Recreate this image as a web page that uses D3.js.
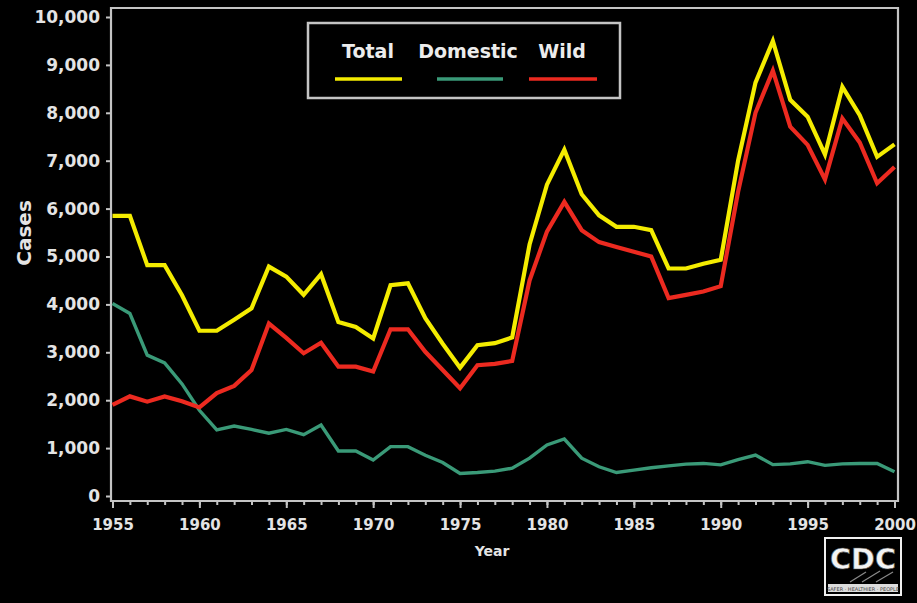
<!DOCTYPE html>
<html>
<head>
<meta charset="utf-8">
<script src="https://cdn.jsdelivr.net/npm/d3@7/dist/d3.min.js"></script>
<style>
  html, body { margin: 0; padding: 0; background: #000; }
  svg { display: block; }
</style>
</head>
<body>
<svg id="chart" width="917" height="603"></svg>
<script>
// Reported animal rabies cases, United States, 1955-2000
const years = d3.range(1955, 2001);

const totalCases = [
  5850, 5850, 4820, 4820, 4190, 3450, 3450, 3680, 3920, 4790,
  4580, 4200, 4630, 3630, 3530, 3290, 4400, 4440, 3710, 3180,
  2680, 3150, 3190, 3310, 5250, 6500, 7230, 6300, 5860, 5620,
  5620, 5550, 4750, 4750, 4850, 4930, 7000, 8630, 9500, 8270,
  7920, 7130, 8540, 7950, 7080, 7340
];

const domesticCases = [
  4020, 3810, 2940, 2780, 2340, 1790, 1380, 1460, 1390, 1310,
  1390, 1280, 1480, 940, 940, 750, 1030, 1030, 850, 700,
  470, 490, 520, 580, 790, 1065, 1190, 790, 610, 490,
  540, 590, 630, 665, 680, 650, 760, 856, 655, 670,
  716, 640, 670, 680, 680, 508
];

const wildCases = [
  1900, 2080, 1970, 2080, 1980, 1850, 2150, 2300, 2630, 3600,
  3300, 2980, 3200, 2700, 2700, 2600, 3480, 3480, 3010, 2630,
  2250, 2730, 2760, 2820, 4500, 5520, 6140, 5550, 5300, 5200,
  5100, 5000, 4130, 4200, 4270, 4380, 6350, 8000, 8880, 7710,
  7330, 6610, 7880, 7380, 6530, 6870
];

const seriesNames = ["Total", "Domestic", "Wild"];
const yTickValues = d3.range(0, 10001, 1000);
const xMajorTicks = d3.range(1955, 2001, 5);

const colors = { Total: "#f4ec00", Domestic: "#3a9a78", Wild: "#ec2a20" };
const widths = { Total: 4.2, Domestic: 3.4, Wild: 4.2 };
const seriesData = { Total: totalCases, Domestic: domesticCases, Wild: wildCases };

const svg = d3.select("#chart");
svg.append("rect").attr("width", 917).attr("height", 603).attr("fill", "#000");

const frame = { left: 111, right: 898, top: 8, bottom: 501 };
const x = d3.scaleLinear().domain([1955, 2000]).range([112.5, 894.5]);
const y = d3.scaleLinear().domain([0, 10000]).range([496, 17]);

const axisColor = "#c4c4c4";
const labelColor = "#e4e4e4";
const fontFamily = "'DejaVu Sans', Verdana, sans-serif";

// Plot frame
svg.append("path")
  .attr("d", `M${frame.left},${frame.top}H${frame.right}V${frame.bottom}H${frame.left}Z`)
  .attr("fill", "none")
  .attr("stroke", axisColor)
  .attr("stroke-width", 2.2);

// Y axis
const yAxis = svg.append("g")
  .attr("transform", `translate(${frame.left},0)`)
  .call(d3.axisLeft(y).tickValues(yTickValues).tickFormat(d3.format(",")).tickSize(5).tickPadding(6));
yAxis.select(".domain").remove();
yAxis.selectAll(".tick line").attr("stroke", axisColor).attr("stroke-width", 2);
yAxis.selectAll(".tick text")
  .attr("fill", labelColor)
  .attr("font-family", fontFamily)
  .attr("font-weight", "bold")
  .attr("font-size", 17);

// X axis: yearly minor ticks, labelled ticks every five years
const xMinor = svg.append("g")
  .attr("transform", `translate(0,${frame.bottom})`)
  .call(d3.axisBottom(x).tickValues(years).tickFormat("").tickSize(4));
xMinor.select(".domain").remove();
xMinor.selectAll(".tick line").attr("stroke", axisColor).attr("stroke-width", 2);

const xMajor = svg.append("g")
  .attr("transform", `translate(0,${frame.bottom})`)
  .call(d3.axisBottom(x).tickValues(xMajorTicks).tickFormat(d3.format("d")).tickSize(7).tickPadding(11));
xMajor.select(".domain").remove();
xMajor.selectAll(".tick line").attr("stroke", axisColor).attr("stroke-width", 2);
xMajor.selectAll(".tick text")
  .attr("fill", labelColor)
  .attr("font-family", fontFamily)
  .attr("font-weight", "bold")
  .attr("font-size", 15);

// Axis titles
svg.append("text")
  .attr("x", 492).attr("y", 556)
  .attr("text-anchor", "middle")
  .attr("fill", labelColor)
  .attr("font-family", fontFamily)
  .attr("font-weight", "bold")
  .attr("font-size", 14)
  .text("Year");

svg.append("text")
  .attr("transform", "translate(31,233) rotate(-90)")
  .attr("text-anchor", "middle")
  .attr("fill", labelColor)
  .attr("font-family", fontFamily)
  .attr("font-weight", "bold")
  .attr("font-size", 20)
  .text("Cases");

// Series lines
const line = d3.line()
  .x((d, i) => x(years[i]))
  .y(d => y(d))
  .curve(d3.curveLinear);

["Domestic", "Wild", "Total"].forEach(name => {
  svg.append("path")
    .datum(seriesData[name])
    .attr("d", line)
    .attr("fill", "none")
    .attr("stroke", colors[name])
    .attr("stroke-width", widths[name])
    .attr("stroke-linejoin", "miter")
    .attr("stroke-miterlimit", 3);
});

// Legend
const legend = svg.append("g");
legend.append("rect")
  .attr("x", 308).attr("y", 23).attr("width", 312).attr("height", 75)
  .attr("fill", "#000")
  .attr("stroke", axisColor)
  .attr("stroke-width", 2.5);

const legendItems = [
  { name: "Total", cx: 368, x0: 335, x1: 402 },
  { name: "Domestic", cx: 468, x0: 437, x1: 503 },
  { name: "Wild", cx: 562, x0: 529, x1: 597 }
];
legendItems.forEach(item => {
  legend.append("text")
    .attr("x", item.cx).attr("y", 58)
    .attr("text-anchor", "middle")
    .attr("fill", "#ececec")
    .attr("font-family", fontFamily)
    .attr("font-weight", "bold")
    .attr("font-size", 19)
    .text(item.name);
  legend.append("line")
    .attr("x1", item.x0).attr("x2", item.x1)
    .attr("y1", 79).attr("y2", 79)
    .attr("stroke", colors[item.name])
    .attr("stroke-width", 3.5);
});

// CDC logo
const logo = svg.append("g");
logo.append("rect")
  .attr("x", 825).attr("y", 538).attr("width", 76).attr("height", 57)
  .attr("fill", "#000")
  .attr("stroke", "#f0f0f0")
  .attr("stroke-width", 2);
logo.append("text")
  .attr("x", 863).attr("y", 569)
  .attr("text-anchor", "middle")
  .attr("fill", "#f4f4f4")
  .attr("stroke", "#555")
  .attr("stroke-width", 0.6)
  .attr("font-family", fontFamily)
  .attr("font-weight", "bold")
  .attr("font-size", 29)
  .attr("textLength", 66)
  .attr("lengthAdjust", "spacingAndGlyphs")
  .text("CDC");
[[850, 582, 866, 572], [862, 582, 880, 571], [876, 582, 893, 572]].forEach(([a, b, c, d]) => {
  logo.append("line")
    .attr("x1", a).attr("y1", b).attr("x2", c).attr("y2", d)
    .attr("stroke", "#8a8a8a").attr("stroke-width", 1.2);
});
logo.append("rect")
  .attr("x", 828).attr("y", 584).attr("width", 70).attr("height", 8)
  .attr("fill", "#dcdcdc");
logo.append("text")
  .attr("x", 863).attr("y", 590.5)
  .attr("text-anchor", "middle")
  .attr("fill", "#444")
  .attr("font-family", fontFamily)
  .attr("font-size", 5)
  .text("SAFER · HEALTHIER · PEOPLE");
</script>
</body>
</html>
